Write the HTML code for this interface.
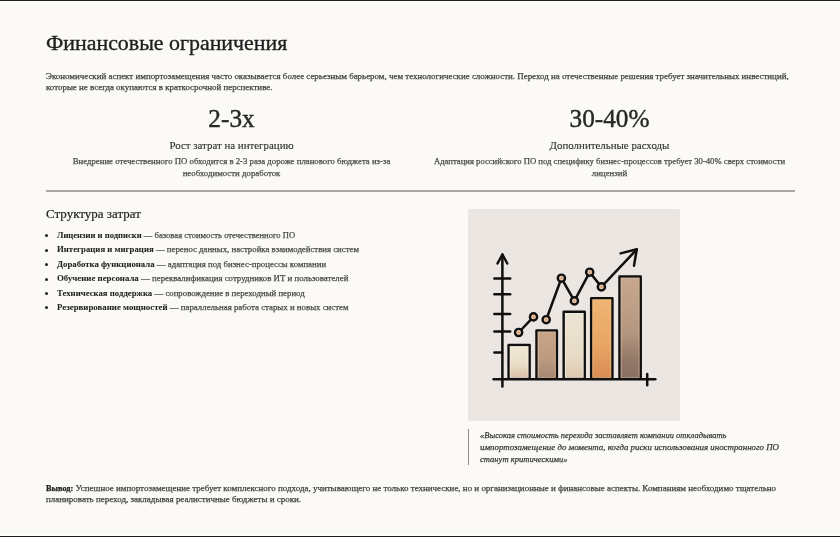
<!DOCTYPE html>
<html><head><meta charset="utf-8">
<style>
html,body{margin:0;padding:0;}
body{width:840px;height:537px;overflow:hidden;background:#fbfaf6;position:relative;font-family:"Liberation Serif",serif;color:#404040;}
.a{position:absolute;white-space:nowrap;will-change:transform;-webkit-text-stroke:0.25px currentColor;}
#topbar{position:absolute;left:0;top:0;width:840px;height:1px;background:#1c1c1c;}
#topbar2{position:absolute;left:0;top:1px;width:840px;height:1px;background:#ffffff;}
#botbar{position:absolute;left:0;top:536px;width:840px;height:1px;background:#1c1c1c;}
#botbar2{position:absolute;left:0;top:535px;width:840px;height:1px;background:#ffffff;}
.title{left:46px;top:30.1px;font-size:21.9px;line-height:26px;color:#1e1e1e;-webkit-text-stroke:0.35px #1e1e1e;}
.p1{left:46px;top:71px;font-size:8.93px;line-height:11.2px;color:#404040;}
.stat{top:103px;font-size:25.25px;line-height:30px;color:#262626;-webkit-text-stroke:0.4px #262626;text-align:center;width:371px;}
.lab{top:139px;font-size:10.9px;line-height:13px;color:#2e2e2e;-webkit-text-stroke:0.12px #2e2e2e;text-align:center;width:371px;}
.desc{top:154.8px;font-size:8.8px;line-height:12px;color:#4a4a4a;text-align:center;width:371px;}
.hr{left:46px;top:190px;width:749px;height:2px;background:#aaa9a6;}
.h3{left:46px;top:206.2px;font-size:13px;line-height:16px;color:#1e1e1e;-webkit-text-stroke:0.2px #1e1e1e;}
.li{left:57.2px;font-size:8.78px;line-height:14.3px;color:#484848;}
.li b{color:#222;-webkit-text-stroke:0.05px #222;}
.bul{position:absolute;left:44.6px;width:3px;height:3px;border-radius:50%;background:#222;}
.imgbox{left:468px;top:209px;width:212px;height:211.5px;background:#ece6e2;border-radius:2px;}
.qbar{left:468px;top:429px;width:1.3px;height:35.6px;background:#948f86;}
.q{left:479.6px;top:429.8px;font-size:8.65px;line-height:11.9px;font-style:italic;color:#3a3a3a;}
.c{left:46px;top:482.5px;font-size:8.92px;line-height:11.4px;color:#404040;}
.c b{color:#222;}
</style></head><body>
<div id="topbar"></div><div id="topbar2"></div>
<div id="botbar2"></div><div id="botbar"></div>

<div class="a title">Финансовые ограничения</div>
<div class="a p1">Экономический аспект импортозамещения часто оказывается более серьезным барьером, чем технологические сложности. Переход на отечественные решения требует значительных инвестиций,<br><span style="font-size:8.92px">которые не всегда окупаются в краткосрочной перспективе.</span></div>

<div class="a stat" style="left:46px">2-3x</div>
<div class="a stat" style="left:424px">30-40%</div>
<div class="a lab" style="left:46px">Рост затрат на интеграцию</div>
<div class="a lab" style="left:424px">Дополнительные расходы</div>
<div class="a desc" style="left:46px"><span style="font-size:8.75px">Внедрение отечественного ПО обходится в 2-3 раза дороже планового бюджета из-за</span><br>необходимости доработок</div>
<div class="a desc" style="left:424px"><span style="font-size:8.66px">Адаптация российского ПО под специфику бизнес-процессов требует 30-40% сверх стоимости</span><br>лицензий</div>

<div class="a hr"></div>

<div class="a h3">Структура затрат</div>
<div class="bul" style="top:234.3px"></div>
<div class="bul" style="top:248.7px"></div>
<div class="bul" style="top:263.1px"></div>
<div class="bul" style="top:277.5px"></div>
<div class="bul" style="top:291.9px"></div>
<div class="bul" style="top:306.3px"></div>
<div class="a li" style="top:227.9px;font-size:8.6px"><b>Лицензии и подписки</b> — базовая стоимость отечественного ПО</div>
<div class="a li" style="top:242.3px"><b>Интеграция и миграция</b> — перенос данных, настройка взаимодействия систем</div>
<div class="a li" style="top:256.7px"><b>Доработка функционала</b> — адаптация под бизнес-процессы компании</div>
<div class="a li" style="top:271.1px;font-size:8.83px"><b>Обучение персонала</b> — переквалификация сотрудников ИТ и пользователей</div>
<div class="a li" style="top:285.5px"><b>Техническая поддержка</b> — сопровождение в переходный период</div>
<div class="a li" style="top:299.9px;font-size:8.83px"><b>Резервирование мощностей</b> — параллельная работа старых и новых систем</div>

<div class="a imgbox"></div>
<svg class="a" style="left:0;top:0;-webkit-text-stroke:0" width="840" height="537" viewBox="0 0 840 537">
 <defs>
  <linearGradient id="g1" x1="0" y1="0" x2="0" y2="1"><stop offset="0" stop-color="#efe7d6"/><stop offset="0.55" stop-color="#ebdfca"/><stop offset="1" stop-color="#d9bfa2"/></linearGradient>
  <linearGradient id="g2" x1="0" y1="0" x2="0" y2="1"><stop offset="0" stop-color="#c7a58a"/><stop offset="0.6" stop-color="#bb9a80"/><stop offset="1" stop-color="#a68771"/></linearGradient>
  <linearGradient id="g3" x1="0" y1="0" x2="0" y2="1"><stop offset="0" stop-color="#ece4d3"/><stop offset="0.65" stop-color="#e8dcc8"/><stop offset="1" stop-color="#ddc8ae"/></linearGradient>
  <linearGradient id="g4" x1="0" y1="0" x2="0" y2="1"><stop offset="0" stop-color="#f0b674"/><stop offset="0.55" stop-color="#e9a666"/><stop offset="1" stop-color="#d98c52"/></linearGradient>
  <linearGradient id="g5" x1="0" y1="0" x2="0" y2="1"><stop offset="0" stop-color="#c8a98f"/><stop offset="0.55" stop-color="#b59780"/><stop offset="0.8" stop-color="#957a69"/><stop offset="1" stop-color="#876e60"/></linearGradient>
 </defs>

 <g stroke="#101010" stroke-width="2.5" fill="none" stroke-linecap="round" stroke-linejoin="round">
  <rect x="508.6" y="345" width="21" height="33.8" fill="url(#g1)"/>
  <rect x="536.5" y="330.4" width="20.4" height="48.4" fill="url(#g2)"/>
  <rect x="563.7" y="311.8" width="21" height="67" fill="url(#g3)"/>
  <rect x="591.2" y="298.2" width="21.2" height="80.6" fill="url(#g4)"/>
  <rect x="619.5" y="276.5" width="21.2" height="102.3" fill="url(#g5)"/>
  <line x1="502.4" y1="254.5" x2="502.4" y2="386.6"/>
  <polyline points="497.5,263.5 502.4,254.5 507.3,263.5"/>
  <line x1="493.6" y1="379.3" x2="655.3" y2="379.3"/>
  <line x1="647.2" y1="374" x2="647.2" y2="385.3"/>
  <line x1="494.4" y1="278.5" x2="510.2" y2="278.5"/>
  <line x1="494.4" y1="294.2" x2="510.2" y2="294.2"/>
  <line x1="494.4" y1="314" x2="510.2" y2="314"/>
  <line x1="494.4" y1="331.6" x2="510.2" y2="331.6"/>
  <line x1="494.4" y1="352.5" x2="502" y2="352.5"/>
  <line x1="518.6" y1="332.5" x2="533.5" y2="316.9"/>
  <polyline points="546.2,319.7 561.4,278.2 574.4,300.9 589.7,272.2 601.4,286.9 636.8,249.3"/>
  <polyline points="620.6,253.4 636.8,249.3 634,265.7"/>
 </g>
 <g fill="none" stroke-width="0.8" opacity="0.8">
  <rect x="510.2" y="346.6" width="17.8" height="31" stroke="#f6f0e2"/>
  <rect x="538.1" y="332" width="17.2" height="45.6" stroke="#e2c3a6"/>
  <rect x="565.3" y="313.4" width="17.8" height="64.2" stroke="#f4eee0"/>
  <rect x="592.8" y="299.8" width="18" height="77.8" stroke="#f6c98c"/>
  <rect x="621.1" y="278.1" width="18" height="99.5" stroke="#dcc0a6"/>
 </g>
 <g stroke="#101010" stroke-width="2.4" fill="#efc9a6">
  <circle cx="518.6" cy="332.5" r="3.6"/>
  <circle cx="533.5" cy="316.9" r="3.6"/>
  <circle cx="546.2" cy="319.7" r="3.6"/>
  <circle cx="561.4" cy="278.2" r="3.6"/>
  <circle cx="574.4" cy="300.9" r="3.6"/>
  <circle cx="589.7" cy="272.2" r="3.6"/>
  <circle cx="601.4" cy="286.9" r="3.6"/>
 </g>
 <g fill="#c98e66">
  <circle cx="518.6" cy="332.5" r="0.9"/>
  <circle cx="533.5" cy="316.9" r="0.9"/>
  <circle cx="546.2" cy="319.7" r="0.9"/>
  <circle cx="561.4" cy="278.2" r="0.9"/>
  <circle cx="574.4" cy="300.9" r="0.9"/>
  <circle cx="589.7" cy="272.2" r="0.9"/>
  <circle cx="601.4" cy="286.9" r="0.9"/>
 </g>
</svg>

<div class="a qbar"></div>
<div class="a q"><span style="font-size:8.47px">«Высокая стоимость перехода заставляет компании откладывать</span><br><span style="font-size:8.89px">импортозамещение до момента, когда риски использования иностранного ПО</span><br><span style="font-size:8.55px">станут критическими»</span></div>

<div class="a c"><b style="font-size:8.3px">Вывод:</b><span style="font-size:8.96px"> Успешное импортозамещение требует комплексного подхода, учитывающего не только технические, но и организационные и финансовые аспекты. Компаниям необходимо тщательно</span><br><span style="font-size:8.98px">планировать переход, закладывая реалистичные бюджеты и сроки.</span></div>
</body></html>
